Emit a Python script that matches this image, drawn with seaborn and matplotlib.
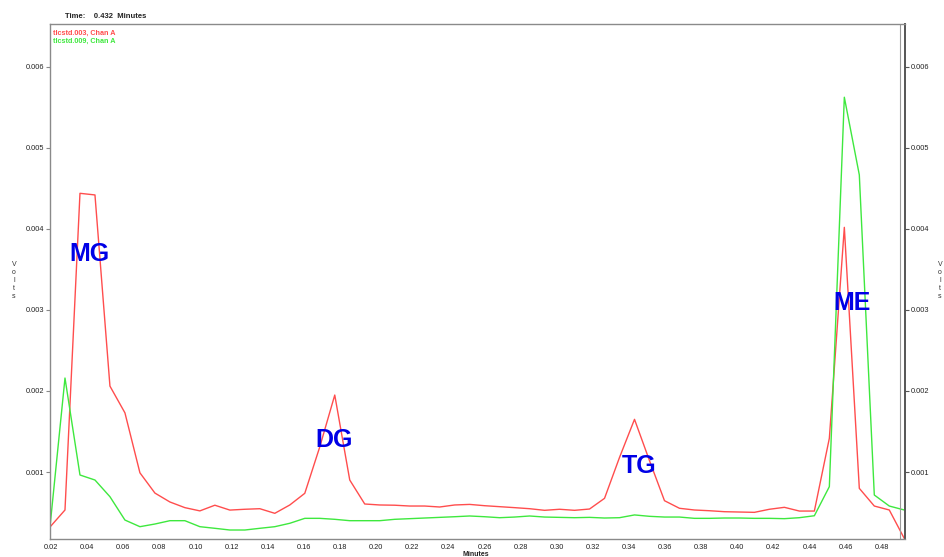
import pandas as pd
import matplotlib.pyplot as plt
import seaborn as sns

# sampling times (minutes)
minutes = [0.0194, 0.0277, 0.0360, 0.0443, 0.0526, 0.0609, 0.0692, 0.0775,
           0.0858, 0.0941, 0.1024, 0.1107, 0.1190, 0.1273, 0.1356, 0.1439,
           0.1522, 0.1605, 0.1688, 0.1771, 0.1854, 0.1937, 0.2020, 0.2103,
           0.2186, 0.2269, 0.2352, 0.2435, 0.2518, 0.2601, 0.2684, 0.2767,
           0.2850, 0.2933, 0.3016, 0.3099, 0.3182, 0.3265, 0.3348, 0.3431,
           0.3514, 0.3597, 0.3680, 0.3763, 0.3846, 0.3929, 0.4012, 0.4095,
           0.4178, 0.4261, 0.4344, 0.4427, 0.4510, 0.4593, 0.4676, 0.4759,
           0.4842, 0.4925]

# tlcstd.003, Chan A (red)
volts_003 = [0.000321, 0.000531, 0.00444, 0.00442, 0.00206, 0.00173, 0.00099, 0.00074,
             0.00063, 0.00056, 0.00052, 0.00059, 0.00053, 0.00054, 0.000547, 0.00049,
             0.000593, 0.000737, 0.00131, 0.00195, 0.000901, 0.000605, 0.000593, 0.00059,
             0.00058, 0.00058, 0.000568, 0.000593, 0.0006, 0.000584, 0.000572, 0.00056,
             0.000547, 0.000527, 0.00054, 0.000527, 0.000543, 0.000675, 0.00118, 0.00165,
             0.00114, 0.000646, 0.000552, 0.000531, 0.000522, 0.00051, 0.000506, 0.000502,
             0.00054, 0.000564, 0.000518, 0.000518, 0.001416, 0.00402, 0.000798, 0.00058,
             0.000531, 0.00018]

# tlcstd.009, Chan A (green)
volts_009 = [0.000325, 0.00216, 0.000963, 0.000901, 0.000695, 0.000407, 0.000325, 0.000358,
             0.000399, 0.000399, 0.000325, 0.000305, 0.000284, 0.000284, 0.000305, 0.000325,
             0.000367, 0.000428, 0.000428, 0.000416, 0.000399, 0.000399, 0.000399, 0.000416,
             0.000424, 0.000432, 0.00044, 0.000448, 0.000457, 0.000448, 0.000436, 0.000444,
             0.000457, 0.000444, 0.00044, 0.000436, 0.00044, 0.000432, 0.000436, 0.00047,
             0.000453, 0.000444, 0.000444, 0.000428, 0.000428, 0.000432, 0.000432, 0.000428,
             0.000428, 0.000424, 0.000436, 0.00046, 0.000819, 0.005626, 0.004667, 0.000716,
             0.00058, 0.000531]

traces = ['tlcstd.003, Chan A', 'tlcstd.009, Chan A']
colors = ['#ff4d4d', '#3ee83e']

peak_labels = ['MG', 'DG', 'TG', 'ME']
peak_x = [0.0412, 0.1768, 0.3458, 0.4634]
peak_y = [0.00369, 0.00140, 0.00107, 0.00308]

xticks = [0.02, 0.04, 0.06, 0.08, 0.10, 0.12, 0.14, 0.16, 0.18, 0.20, 0.22, 0.24,
          0.26, 0.28, 0.30, 0.32, 0.34, 0.36, 0.38, 0.40, 0.42, 0.44, 0.46, 0.48]
yticks = [0.001, 0.002, 0.003, 0.004, 0.005, 0.006]

df = pd.DataFrame({
    'Minutes': minutes * 2,
    'Volts': volts_003 + volts_009,
    'trace': [traces[0]] * len(minutes) + [traces[1]] * len(minutes),
})

sns.set_style('white')
plt.rcParams['font.family'] = ['Liberation Sans', 'DejaVu Sans']

fig = plt.figure(figsize=(9.45, 5.57), dpi=100)
ax = fig.add_axes([50 / 945, 1 - 539 / 557, 855 / 945, 515 / 557])

sns.lineplot(data=df, x='Minutes', y='Volts', hue='trace', palette=colors,
             linewidth=1.0, legend=False, ax=ax)

ax.set_xlim(0.0194, 0.4929)
ax.set_ylim(0.000173, 0.00653)
ax.set_xticks(xticks)
ax.set_xticklabels(['%.2f' % t for t in xticks])
ax.set_yticks(yticks)
ax.set_yticklabels(['%.3f' % t for t in yticks])
ax.tick_params(axis='both', labelsize=5.3, length=3, width=0.8, pad=1,
               colors='#888888', labelcolor='#222222', direction='out')
ax.tick_params(axis='x', pad=0.5)
ax.set_xlabel('')
ax.set_ylabel('')
for side in ['left', 'bottom', 'top']:
    ax.spines[side].set_color('#8a8a8a')
    ax.spines[side].set_linewidth(1.0)
ax.spines['right'].set_color('#555555')
ax.spines['right'].set_linewidth(1.4)
ax.axvline(0.4901, color='#9a9a9a', linewidth=0.8)

ax2 = ax.twinx()
ax2.set_ylim(ax.get_ylim())
ax2.set_yticks(yticks)
ax2.set_yticklabels(['%.3f' % t for t in yticks])
ax2.tick_params(axis='y', labelsize=5.3, length=3, width=0.8, pad=1,
                colors='#555555', labelcolor='#222222', direction='out')
for side in ['left', 'bottom', 'top', 'right']:
    ax2.spines[side].set_visible(False)

for lab, px, py in zip(peak_labels, peak_x, peak_y):
    ax.text(px, py, lab, color='#0000e6', fontsize=18, fontweight='bold',
            ha='center', va='center')

# header and trace names
fig.text(65 / 945, 1 - 17 / 557, 'Time:    0.432  Minutes', fontsize=5.5,
         fontweight='bold', color='#222222', va='center')
fig.text(53 / 945, 1 - 33 / 557, traces[0], fontsize=5.2, color=colors[0],
         fontweight='bold', va='center')
fig.text(53 / 945, 1 - 41 / 557, traces[1], fontsize=5.2, color=colors[1],
         fontweight='bold', va='center')

# stacked axis titles
fig.text(14 / 945, 1 - 281 / 557, 'V\no\nl\nt\ns', fontsize=5, color='#333333',
         ha='center', va='center', linespacing=1.2)
fig.text(940 / 945, 1 - 281 / 557, 'V\no\nl\nt\ns', fontsize=5, color='#333333',
         ha='center', va='center', linespacing=1.2)
fig.text(476 / 945, 1 - 555 / 557, 'Minutes', fontsize=5, color='#222222',
         fontweight='bold', ha='center', va='center')

fig.savefig('out.png', dpi=100)
